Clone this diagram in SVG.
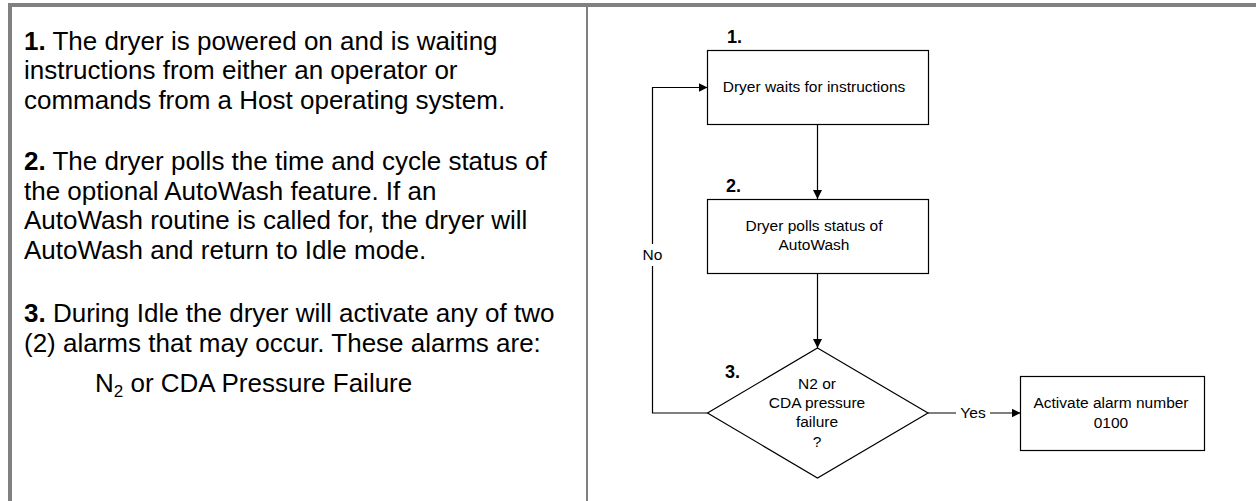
<svg xmlns="http://www.w3.org/2000/svg" width="1256" height="501" viewBox="0 0 1256 501">
<defs>
<style>
.frame{fill:#808080;}
.body{font-family:"Liberation Sans",Arial,sans-serif;font-size:26px;fill:#000;}
.b{font-weight:bold;}
.node{fill:#fff;stroke:#000;stroke-width:1.2;}
.t{font-family:"Liberation Sans",Arial,sans-serif;font-size:15.5px;fill:#000;text-anchor:middle;}
.num{font-family:"Liberation Sans",Arial,sans-serif;font-size:18px;font-weight:bold;fill:#000;}
.conn{fill:none;stroke:#000;stroke-width:1.2;}
</style>
<marker id="arr" viewBox="0 0 10 10" refX="10" refY="5" markerWidth="9" markerHeight="9" markerUnits="userSpaceOnUse" orient="auto">
<path d="M0,0 L10,5 L0,10 z" fill="#000"/>
</marker>
</defs>
<rect width="1256" height="501" fill="#fff"/>
<g id="frame">
<rect class="frame" x="8" y="3" width="1248" height="4"/>
<rect class="frame" x="8" y="3" width="4" height="498"/>
<rect class="frame" x="586" y="7" width="2" height="494"/>
</g>
<g id="description" class="body">
<text x="24" y="49.5"><tspan class="b">1.</tspan> The dryer is powered on and is waiting</text>
<text x="24" y="79">instructions from either an operator or</text>
<text x="24" y="108.5">commands from a Host operating system.</text>
<text x="24" y="170"><tspan class="b">2.</tspan> The dryer polls the time and cycle status of</text>
<text x="24" y="199.5">the optional AutoWash feature. If an</text>
<text x="24" y="229">AutoWash routine is called for, the dryer will</text>
<text x="24" y="258.5">AutoWash and return to Idle mode.</text>
<text x="24" y="322"><tspan class="b">3.</tspan> During Idle the dryer will activate any of two</text>
<text x="24" y="351.5">(2) alarms that may occur. These alarms are:</text>
<text x="95" y="392">N<tspan font-size="17" dy="5">2</tspan><tspan dy="-5"> or CDA Pressure Failure</tspan></text>
</g>
<g id="connectors">
<path class="conn" d="M817.5 124 V199" marker-end="url(#arr)"/>
<path class="conn" d="M817.5 273 V348" marker-end="url(#arr)"/>
<path class="conn" d="M707.5 413 H652.5 V266 M652.5 244 V87.5 H707.5" marker-end="url(#arr)"/>
<path class="conn" d="M928 413 H956 M990 413 H1020.5" marker-end="url(#arr)"/>
<text class="t" x="652.5" y="260">No</text>
<text class="t" x="973" y="418">Yes</text>
</g>
<g id="n1">
<text class="num" x="727" y="43">1.</text>
<rect class="node" x="707.5" y="50.5" width="221" height="74"/>
<text class="t" x="814" y="92">Dryer waits for instructions</text>
</g>
<g id="n2">
<text class="num" x="726" y="192">2.</text>
<rect class="node" x="707.5" y="199.5" width="221" height="74"/>
<text class="t" x="814" y="231">Dryer polls status of</text>
<text class="t" x="814" y="250">AutoWash</text>
</g>
<g id="n3">
<text class="num" x="725" y="378">3.</text>
<polygon class="node" points="817.5,348 928,413 817.5,478 707.5,413"/>
<text class="t" x="817" y="389">N2 or</text>
<text class="t" x="817" y="408">CDA pressure</text>
<text class="t" x="817" y="427">failure</text>
<text class="t" x="817" y="447">?</text>
</g>
<g id="n4">
<rect class="node" x="1020.5" y="376.5" width="184" height="74"/>
<text class="t" x="1111" y="408">Activate alarm number</text>
<text class="t" x="1111" y="428">0100</text>
</g>
</svg>
